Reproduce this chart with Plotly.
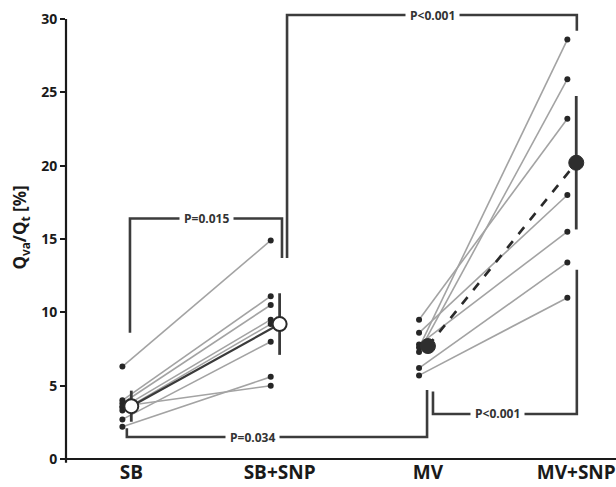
import plotly.graph_objects as go

# Condition labels and their x positions
conditions = ["SB", "SB+SNP", "MV", "MV+SNP"]
cond_x = [1, 2, 3, 4]

# Paired individual measurements, Qva/Qt [%]
sb = [6.3, 4.0, 3.8, 3.6, 3.5, 3.3, 2.7, 2.2]
sb_snp = [14.9, 11.1, 10.5, 5.0, 9.5, 9.2, 8.0, 5.6]
mv = [7.6, 7.3, 9.5, 8.6, 7.8, 6.2, 5.7]
mv_snp = [28.6, 25.9, 23.2, 18.0, 15.5, 13.4, 11.0]

# Group means and standard deviations
means = [3.6, 9.2, 7.7, 20.2]
sds = [1.06, 2.1, 0.0, 4.55]

# Significance labels
p_labels = ["P=0.015", "P<0.001", "P=0.034", "P<0.001"]

y_ticks = [0, 5, 10, 15, 20, 25, 30]

FONT = "Open Sans"
DARK = "#333333"
GREY = "#a3a3a3"
OFF = -0.06  # individual points sit just left of the group mean

XR = [0.5597, 4.268]
YR = [0.0, 30.614]


def paired(a, b, xa, xb):
    xs, ys = [], []
    for u, v in zip(a, b):
        xs += [xa + OFF, xb + OFF, None]
        ys += [u, v, None]
    return xs, ys


fig = go.Figure()

# Individual subject lines
for a, b, xa, xb in [(sb, sb_snp, 1, 2), (mv, mv_snp, 3, 4)]:
    xs, ys = paired(a, b, xa, xb)
    fig.add_trace(go.Scatter(x=xs, y=ys, mode="lines+markers",
                             line=dict(color=GREY, width=1.6),
                             marker=dict(color="#262626", size=6),
                             hoverinfo="skip", showlegend=False))

# Error bars (drawn as vertical segments, no caps)
for xv, m, s in zip(cond_x, means, sds):
    if s > 0:
        fig.add_trace(go.Scatter(x=[xv, xv], y=[m - s, m + s], mode="lines",
                                 line=dict(color="#3a3a3a", width=2.8),
                                 hoverinfo="skip", showlegend=False))

# Mean connecting lines
fig.add_trace(go.Scatter(x=cond_x[0:2], y=means[0:2], mode="lines",
                         line=dict(color="#3a3a3a", width=2.2),
                         hoverinfo="skip", showlegend=False))
fig.add_trace(go.Scatter(x=cond_x[2:4], y=means[2:4], mode="lines",
                         line=dict(color="#2a2a2a", width=2.6, dash="dash"),
                         hoverinfo="skip", showlegend=False))

# Mean markers: open for spontaneous breathing, filled for mechanical ventilation
fig.add_trace(go.Scatter(x=cond_x[0:2], y=means[0:2], mode="markers",
                         marker=dict(color="white", size=14,
                                     line=dict(color="#2a2a2a", width=2)),
                         hoverinfo="skip", showlegend=False))
fig.add_trace(go.Scatter(x=cond_x[2:4], y=means[2:4], mode="markers",
                         marker=dict(color="#2e2e2e", size=15,
                                     line=dict(color="#2e2e2e", width=1)),
                         hoverinfo="skip", showlegend=False))

BR = dict(color="#3c3c3c", width=2.6)


def bracket(points):
    xs = [p[0] for p in points]
    ys = [p[1] for p in points]
    fig.add_trace(go.Scatter(x=xs, y=ys, mode="lines", line=BR,
                             hoverinfo="skip", showlegend=False))


# Significance brackets
bracket([(0.991, 8.6), (0.991, 16.4), (2.016, 16.4), (2.016, 13.7)])
bracket([(2.05, 13.7), (2.05, 30.27), (4.004, 30.27), (4.004, 29.2)])
bracket([(0.97, 2.1), (0.97, 1.5), (2.994, 1.5), (2.994, 4.7)])
bracket([(3.034, 4.6), (3.034, 3.07), (4.004, 3.07), (4.004, 12.9)])

for (xp, yp), txt in zip([(1.505, 16.4), (3.03, 30.27), (1.815, 1.5), (3.466, 3.07)],
                         p_labels):
    fig.add_annotation(x=xp, y=yp, text=txt, showarrow=False,
                       bgcolor="white", borderpad=4,
                       font=dict(family=FONT, size=12, color=DARK, weight="bold"))


def px_y(v):
    return (v - YR[0]) / (YR[1] - YR[0])


# Axis lines
fig.add_shape(type="line", xref="paper", yref="paper",
              x0=0, x1=0, y0=px_y(-0.25), y1=px_y(30),
              line=dict(color="#1a1a1a", width=2.2))
fig.add_shape(type="line", xref="paper", yref="paper",
              x0=-0.008, x1=1, y0=0, y1=0,
              line=dict(color="#1a1a1a", width=2.2))

# Y axis title with subscripts
fig.add_annotation(xref="paper", yref="paper", x=-0.083, xanchor="center",
                   y=px_y(15.8), yanchor="middle",
                   text="Q<sub>va</sub>/Q<sub>t</sub> [%]", textangle=-90,
                   showarrow=False,
                   font=dict(family=FONT, size=17, color="#1a1a1a", weight="bold"))

fig.update_layout(
    width=616, height=487,
    margin=dict(l=66, r=0, t=10, b=28),
    paper_bgcolor="white", plot_bgcolor="white",
    xaxis=dict(range=XR, tickvals=cond_x, ticktext=conditions,
               showgrid=False, zeroline=False, showline=False, ticks="",
               ticklabelstandoff=0,
               tickfont=dict(family=FONT, size=19, color="#1a1a1a", weight="bold")),
    yaxis=dict(range=YR, tickvals=y_ticks, showgrid=False, zeroline=False,
               showline=False, ticks="outside", ticklen=5, tickwidth=2,
               tickcolor="#1a1a1a",
               tickfont=dict(family=FONT, size=14, color="#1a1a1a", weight="bold")),
)

fig.write_html("out.html")
